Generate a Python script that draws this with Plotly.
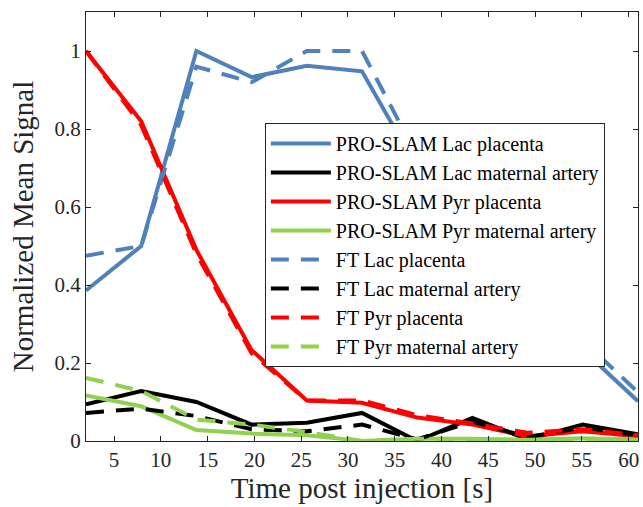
import plotly.graph_objects as go

time_s = [2, 7.9, 13.8, 19.7, 25.6, 31.5, 37.4, 43.3, 49.2, 55.1, 61]

pro_lac_placenta = [0.386, 0.50, 1.0, 0.933, 0.962, 0.948, 0.70, 0.53, 0.38, 0.234, 0.102]
pro_lac_artery = [0.094, 0.128, 0.10, 0.042, 0.047, 0.072, 0.0, 0.059, 0.004, 0.042, 0.017]
pro_pyr_placenta = [1.0, 0.82, 0.49, 0.233, 0.104, 0.098, 0.06, 0.042, 0.012, 0.025, 0.012]
pro_pyr_artery = [0.117, 0.089, 0.028, 0.019, 0.015, 0.0, 0.006, 0.006, 0.003, 0.007, 0.003]

ft_lac_placenta = [0.475, 0.50, 0.96, 0.92, 1.0, 1.0, 0.73, 0.56, 0.41, 0.258, 0.125]
ft_lac_artery = [0.072, 0.083, 0.064, 0.030, 0.025, 0.042, 0.004, 0.050, 0.010, 0.035, 0.015]
ft_pyr_placenta = [1.0, 0.81, 0.48, 0.225, 0.104, 0.104, 0.066, 0.045, 0.021, 0.030, 0.015]
ft_pyr_artery = [0.162, 0.128, 0.055, 0.042, 0.023, 0.0, 0.006, 0.005, 0.003, 0.006, 0.003]

names = [
    "PRO-SLAM Lac placenta", "PRO-SLAM Lac maternal artery",
    "PRO-SLAM Pyr placenta", "PRO-SLAM Pyr maternal artery",
    "FT Lac placenta", "FT Lac maternal artery",
    "FT Pyr placenta", "FT Pyr maternal artery",
]
series = [pro_lac_placenta, pro_lac_artery, pro_pyr_placenta, pro_pyr_artery,
          ft_lac_placenta, ft_lac_artery, ft_pyr_placenta, ft_pyr_artery]
colors = ["#4F81BD", "#000000", "#FF0000", "#92D050"] * 2
dashes = ["solid"] * 4 + ["18px,12px"] * 4

fig = go.Figure()
for name, ys, c, d in zip(names, series, colors, dashes):
    fig.add_trace(go.Scatter(x=time_s, y=ys, mode="lines", name=name,
                             line=dict(color=c, width=4, dash=d)))

font_family = "Liberation Serif, Times New Roman, serif"
fig.update_layout(
    width=643, height=507,
    margin=dict(l=86, r=5, t=12, b=66),
    paper_bgcolor="white", plot_bgcolor="white",
    font=dict(family=font_family, color="#262626", size=21),
    showlegend=True,
    legend=dict(x=0.324, y=0.741, xanchor="left", yanchor="top",
                bgcolor="white", bordercolor="#262626", borderwidth=1,
                font=dict(family=font_family, size=20, color="#000000"),
                itemwidth=60, tracegroupgap=0),
)
fig.update_xaxes(range=[2, 61], tickvals=[5, 10, 15, 20, 25, 30, 35, 40, 45, 50, 55, 60],
                 ticks="inside", ticklen=5, tickcolor="#262626",
                 showline=True, linecolor="#262626", linewidth=1, mirror="ticks",
                 showgrid=False, zeroline=False,
                 title=dict(text="Time post injection [s]", font=dict(size=29), standoff=0))
fig.update_yaxes(range=[0, 1.1], tickvals=[0, 0.2, 0.4, 0.6, 0.8, 1],
                 ticktext=["0", "0.2", "0.4", "0.6", "0.8", "1"],
                 ticks="inside", ticklen=5, tickcolor="#262626",
                 showline=True, linecolor="#262626", linewidth=1, mirror="ticks",
                 showgrid=False, zeroline=False,
                 title=dict(text="Normalized Mean Signal", font=dict(size=29), standoff=12))

fig.write_html("out.html")
